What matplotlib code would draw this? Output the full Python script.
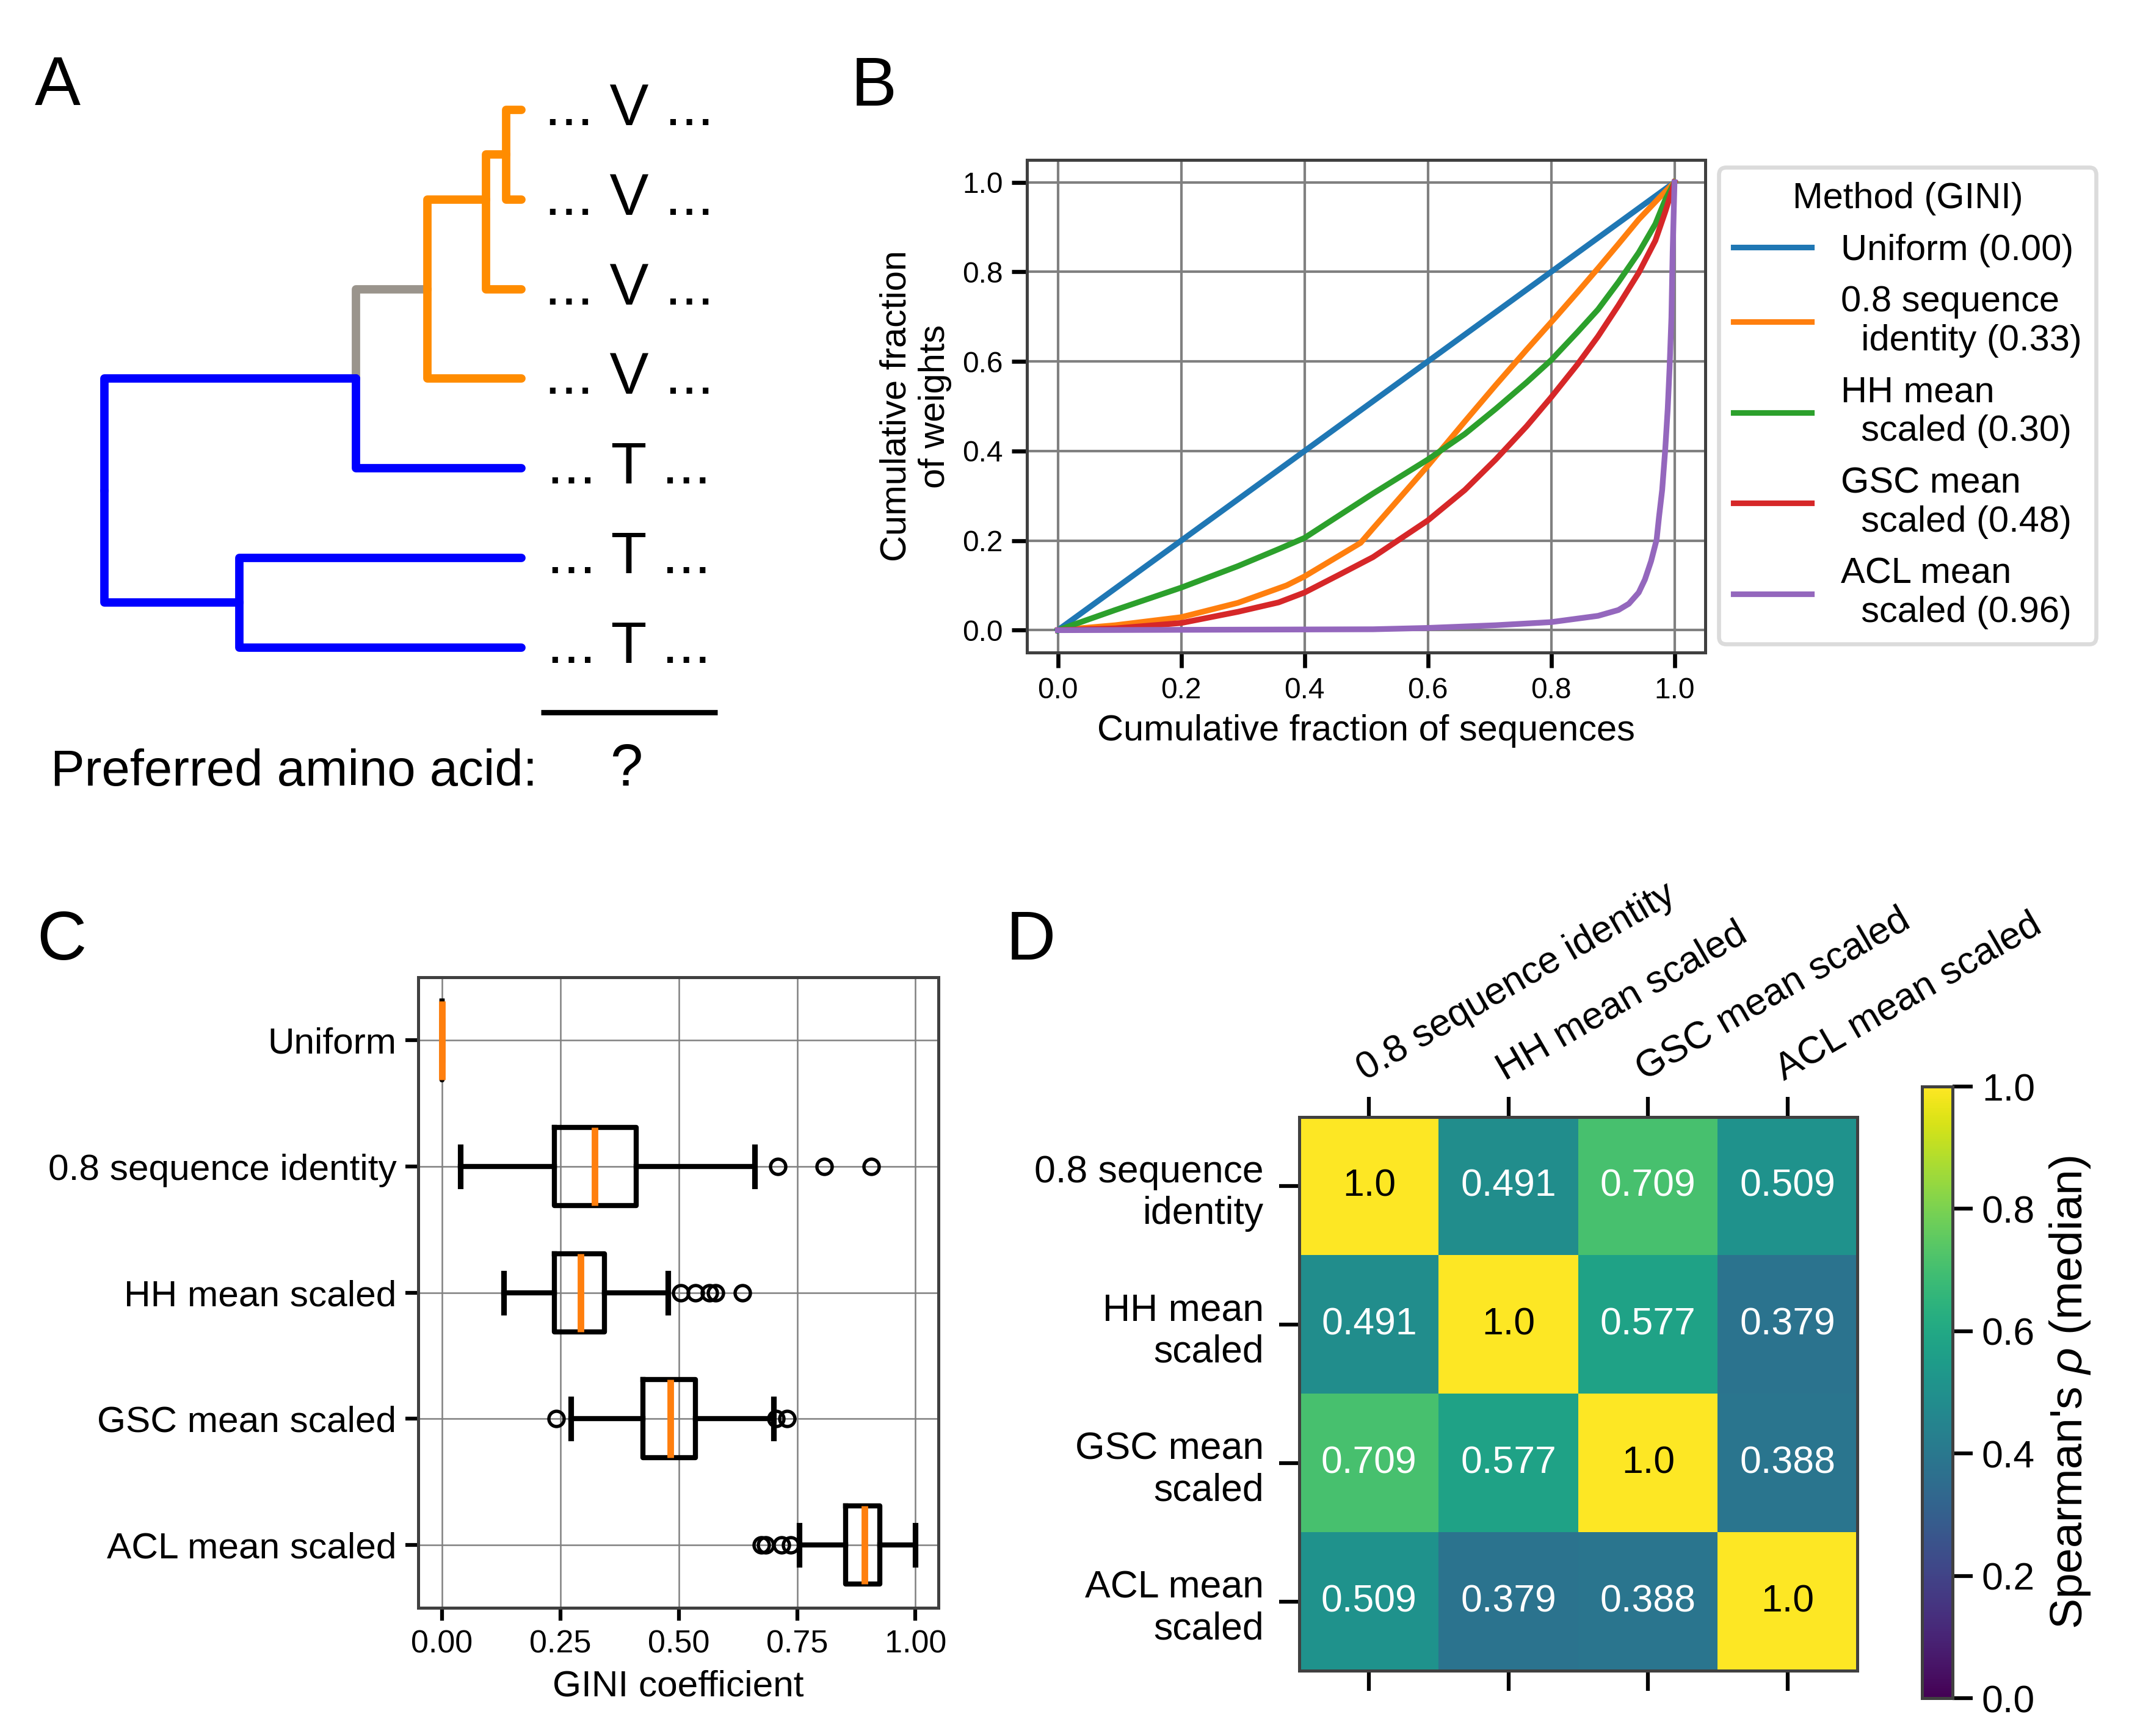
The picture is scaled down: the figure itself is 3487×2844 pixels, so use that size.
import matplotlib
matplotlib.use("Agg")
import matplotlib.pyplot as plt
import numpy as np

plt.rcParams["font.family"] = ["Liberation Sans", "DejaVu Sans"]
plt.rcParams["mathtext.fontset"] = "custom"
plt.rcParams["mathtext.rm"] = "Liberation Sans"
plt.rcParams["mathtext.it"] = "Liberation Sans:italic"

# ---- panel A: toy tree ----
LEAF_RESIDUES = ["V", "V", "V", "V", "T", "T", "T"]
NODE_DEPTH = {"root": 0.0, "low": 0.324, "up": 0.603, "orange": 0.775, "n5": 0.915, "n6": 0.963}
NODE_Y = {"root": 4.25, "low": 5.5, "up": 3.0, "orange": 2.0, "n5": 1.0, "n6": 0.5}
LEAF_DEPTH = 1.0
# (parent, child, clade)   child = int -> leaf index
EDGES = [
    ("up", "orange", "mixed"),
    ("orange", 3, "V"), ("orange", "n5", "V"), ("n5", 2, "V"),
    ("n5", "n6", "V"), ("n6", 0, "V"), ("n6", 1, "V"),
    ("root", "up", "T"), ("root", "low", "T"), ("low", 5, "T"),
    ("low", 6, "T"), ("up", 4, "T"),
]
CLADE_COLORS = {"mixed": "#9a948c", "V": "#ff8c00", "T": "#0000ff"}

# ---- panel B: Lorenz curves ----
UNIFORM_X = [0.0, 1.0]
UNIFORM_Y = [0.0, 1.0]
SEQID_X = [0, 0.093, 0.2, 0.292, 0.371, 0.4, 0.491, 0.511, 0.6, 0.66, 0.71, 0.76, 0.81,
           0.843, 0.876, 0.909, 0.942, 0.975, 1.0]
SEQID_Y = [0, 0.011, 0.029, 0.061, 0.100, 0.120, 0.195, 0.227, 0.367, 0.466, 0.547, 0.626,
           0.703, 0.755, 0.808, 0.862, 0.917, 0.965, 1.0]
HH_X = [0, 0.093, 0.2, 0.292, 0.358, 0.4, 0.511, 0.6, 0.66, 0.71, 0.76, 0.8, 0.843, 0.876,
        0.909, 0.942, 0.969, 0.985, 1.0]
HH_Y = [0, 0.045, 0.095, 0.143, 0.181, 0.206, 0.305, 0.381, 0.438, 0.494, 0.553, 0.603,
        0.666, 0.716, 0.777, 0.843, 0.907, 0.961, 1.0]
GSC_X = [0, 0.093, 0.2, 0.292, 0.358, 0.4, 0.458, 0.511, 0.6, 0.66, 0.71, 0.76, 0.8, 0.843,
         0.876, 0.909, 0.942, 0.969, 0.985, 1.0]
GSC_Y = [0, 0.004, 0.016, 0.041, 0.062, 0.084, 0.125, 0.163, 0.245, 0.313, 0.381, 0.455,
         0.52, 0.594, 0.656, 0.725, 0.798, 0.870, 0.934, 1.0]
ACL_X = [0, 0.511, 0.6, 0.71, 0.8, 0.876, 0.909, 0.926, 0.942, 0.952, 0.962, 0.971, 0.975,
         0.980, 0.985, 0.989, 0.992, 0.995, 0.997, 1.0]
ACL_Y = [0, 0.002, 0.005, 0.011, 0.018, 0.032, 0.045, 0.059, 0.084, 0.113, 0.154, 0.202,
         0.254, 0.313, 0.404, 0.494, 0.585, 0.698, 0.843, 1.0]
LEGEND_LABELS = ["Uniform (0.00)", "0.8 sequence\n  identity (0.33)", "HH mean\n  scaled (0.30)",
                 "GSC mean\n  scaled (0.48)", "ACL mean\n  scaled (0.96)"]
LINE_COLORS = ["#1f77b4", "#ff7f0e", "#2ca02c", "#d62728", "#9467bd"]

# ---- panel C: GINI boxplots ----
BOX_LABELS = ["Uniform", "0.8 sequence identity", "HH mean scaled", "GSC mean scaled", "ACL mean scaled"]
BOX_WHISLO = [0.0, 0.039, 0.131, 0.273, 0.755]
BOX_Q1 = [0.0, 0.238, 0.237, 0.425, 0.852]
BOX_MED = [0.0, 0.323, 0.293, 0.482, 0.892]
BOX_Q3 = [0.0, 0.410, 0.343, 0.536, 0.925]
BOX_WHISHI = [0.0, 0.660, 0.478, 0.700, 1.0]
BOX_FLIERS = [[], [0.710, 0.807, 0.907], [0.505, 0.535, 0.565, 0.578, 0.635],
              [0.241, 0.706, 0.729], [0.674, 0.683, 0.717, 0.736]]

# ---- panel D: correlation heatmap ----
CORR_LABELS = ["0.8 sequence identity", "HH mean scaled", "GSC mean scaled", "ACL mean scaled"]
CORR_YLABELS = ["0.8 sequence\nidentity", "HH mean\nscaled", "GSC mean\nscaled", "ACL mean\nscaled"]
CORR = np.array([
    [1.0, 0.491, 0.709, 0.509],
    [0.491, 1.0, 0.577, 0.379],
    [0.709, 0.577, 1.0, 0.388],
    [0.509, 0.379, 0.388, 1.0],
])

SPINE = "#404040"

fig = plt.figure(figsize=(3487 / 300, 2844 / 300), dpi=300)

# panel letters
for lab, x, y in [("A", 0.0163, 0.9395), ("B", 0.3998, 0.9392), ("C", 0.0172, 0.4473), ("D", 0.4726, 0.4473)]:
    fig.text(x, y, lab, fontsize=27, ha="left", va="baseline")

# ---------------- A ----------------
axA = fig.add_axes([0, 0.5, 0.48, 0.5])
axA.set_xlim(-0.2504, 2.2006)
axA.set_ylim(8.460, -1.226)
axA.axis("off")

order = {"mixed": 1, "V": 2, "T": 3}
for parent, child, clade in EDGES:
    px, py = NODE_DEPTH[parent], NODE_Y[parent]
    if isinstance(child, int):
        cx, cy = LEAF_DEPTH, child
    else:
        cx, cy = NODE_DEPTH[child], NODE_Y[child]
    axA.plot([px, px, cx], [py, cy, cy], color=CLADE_COLORS[clade], lw=3.3,
             solid_capstyle="round", solid_joinstyle="round", zorder=order[clade])

for i, res in enumerate(LEAF_RESIDUES):
    axA.text(1.258, i, f"... {res} ...", fontsize=23, ha="center", va="center")
axA.plot([1.047, 1.47], [6.72, 6.72], color="black", lw=2.1, solid_capstyle="butt")
axA.text(-0.129, 7.54, "Preferred amino acid:", fontsize=20, ha="left", va="baseline")
axA.text(1.252, 7.54, "?", fontsize=23, ha="center", va="baseline")

# ---------------- B ----------------
axB = fig.add_axes([0.4824, 0.6241, 0.3186, 0.2838])
curves = [(UNIFORM_X, UNIFORM_Y), (SEQID_X, SEQID_Y), (HH_X, HH_Y), (GSC_X, GSC_Y), (ACL_X, ACL_Y)]
for (xs, ys), lab, col in zip(curves, LEGEND_LABELS, LINE_COLORS):
    axB.plot(xs, ys, color=col, lw=2.25, label=lab)
axB.set_xticks(np.arange(0, 1.01, 0.2))
axB.set_yticks(np.arange(0, 1.01, 0.2))
axB.grid(True, color="#808080", lw=1.0)
axB.set_axisbelow(True)
axB.tick_params(labelsize=11.5, length=6, width=1.6)
axB.set_xlabel("Cumulative fraction of sequences", fontsize=14.3)
axB.set_ylabel("Cumulative fraction\nof weights", fontsize=14.3)
for s in axB.spines.values():
    s.set_color(SPINE)
    s.set_linewidth(1.2)
leg = axB.legend(title="Method (GINI)", fontsize=14.3, title_fontsize=14.3,
                 loc="upper left", bbox_to_anchor=(1.02, 0.985), borderaxespad=0,
                 handlelength=2.15, labelspacing=0.5, fancybox=True)
leg.get_frame().set_edgecolor("#d3d3d3")
leg.get_frame().set_linewidth(1.6)
for h in leg.get_lines():
    h.set_linewidth(2.2)

# ---------------- C ----------------
axC = fig.add_axes([0.1964, 0.0738, 0.2443, 0.3632])
stats = []
for i, lab in enumerate(BOX_LABELS):
    stats.append(dict(label=lab, whislo=BOX_WHISLO[i], q1=BOX_Q1[i], med=BOX_MED[i],
                      q3=BOX_Q3[i], whishi=BOX_WHISHI[i], fliers=BOX_FLIERS[i]))
axC.bxp(stats, positions=range(1, len(stats) + 1), widths=0.62, orientation="horizontal",
        boxprops=dict(color="black", lw=2),
        whiskerprops=dict(color="black", lw=2),
        capprops=dict(color="black", lw=2.2),
        medianprops=dict(color="#ff7f0e", lw=2.6),
        flierprops=dict(marker="o", markerfacecolor="none", markeredgecolor="black",
                        markersize=6, markeredgewidth=1.3))
axC.set_ylim(5.5, 0.5)
axC.set_xlim(-0.05, 1.048)
axC.set_xticks([0, 0.25, 0.5, 0.75, 1.0])
axC.grid(True, color="#808080", lw=0.6)
axC.set_axisbelow(True)
axC.tick_params(axis="y", labelsize=14.5, length=5, width=1.5)
axC.tick_params(axis="x", labelsize=12.5, length=5, width=1.5)
axC.set_xlabel("GINI coefficient", fontsize=14.5)
for s in axC.spines.values():
    s.set_color(SPINE)
    s.set_linewidth(1.2)

# ---------------- D ----------------
axD = fig.add_axes([0.6103, 0.0376, 0.2621, 0.3189])
im = axD.imshow(CORR, cmap="viridis", vmin=0, vmax=1, aspect="auto")
n = len(CORR_LABELS)
axD.set_xticks(range(n))
axD.set_yticks(range(n))
axD.set_xticklabels(CORR_LABELS)
axD.set_yticklabels(CORR_YLABELS)
axD.tick_params(top=True, bottom=True, labeltop=True, labelbottom=False,
                labelsize=15, length=8, width=1.5)
axD.tick_params(axis="y", pad=6)
plt.setp(axD.get_xticklabels(), rotation=30, ha="left", rotation_mode="anchor")
for i in range(n):
    for j in range(n):
        v = CORR[i, j]
        axD.text(j, i, f"{v}", ha="center", va="center", fontsize=15,
                 color="black" if v > 0.9 else "white")
for s in axD.spines.values():
    s.set_color(SPINE)
    s.set_linewidth(1.2)

cax = fig.add_axes([0.9028, 0.0218, 0.01434, 0.3523])
cb = fig.colorbar(im, cax=cax)
cb.set_ticks(np.arange(0, 1.01, 0.2))
cb.ax.tick_params(labelsize=15, length=8, width=1.5)
cb.outline.set_edgecolor(SPINE)
cb.outline.set_linewidth(1.2)
cb.set_label("Spearman's $\\rho$ (median)", fontsize=18, labelpad=5)

fig.savefig("out.png", dpi=300)
